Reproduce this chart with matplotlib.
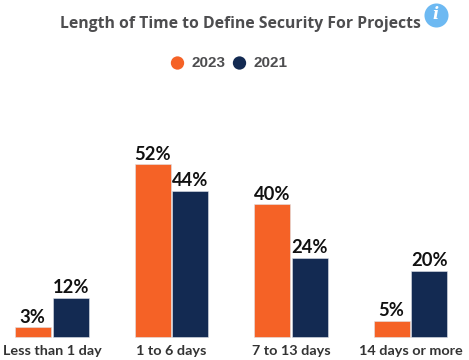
import matplotlib
matplotlib.use('Agg')
import matplotlib.pyplot as plt
import numpy as np

categories = ['Less than 1 day', '1 to 6 days', '7 to 13 days', '14 days or more']
values_2023 = [3, 52, 40, 5]
values_2021 = [12, 44, 24, 20]

orange = '#F56226'
navy = '#132A52'

fig = plt.figure(figsize=(4.69, 3.60), dpi=100)

# axes covers the whole figure, limits chosen so bars land in the right pixels
ax = fig.add_axes([0, 0, 1, 1])
x = np.arange(len(categories))
w = 0.302
off = 0.157
ax.bar(x - off, values_2023, w, color=orange, edgecolor='#dfe3ea', linewidth=0.4)
ax.bar(x + off, values_2021, w, color=navy, edgecolor='#dfe3ea', linewidth=0.4)
ax.set_xlim(-0.436, 3.488)
ax.set_ylim(-6.76, 101.35)
ax.axis('off')

for i, c in enumerate(categories):
    ax.text(i, -4.0, c, ha='center', va='center', fontsize=10.35,
            family='Lato', fontweight='bold', color='#333333')
    ax.text(i - off - 0.005, values_2023[i] + 0.5, f'{values_2023[i]}%', ha='center', va='bottom',
            fontsize=13.2, family='Lato', fontweight='bold', color='#111111')
    ax.text(i + off, values_2021[i] + 0.5, f'{values_2021[i]}%', ha='center', va='bottom',
            fontsize=13.2, family='Lato', fontweight='bold', color='#111111')

# title, legend and icon are placed in figure pixels
def fx(px):
    return px / 469

def fy(py):
    return 1 - py / 360

fig.text(fx(240.5), fy(23.5), 'Length of Time to Define Security For Projects', ha='center', va='center',
         fontsize=11.3, family='Open Sans', fontweight='bold', color='#4d4d4f')

over = fig.add_axes([0, 0, 1, 1])
over.set_xlim(0, 469)
over.set_ylim(360, 0)
over.axis('off')
over.patch.set_alpha(0)
over.scatter([177.5, 239.5], [63, 63], s=92, color=[orange, navy], linewidths=0)
over.scatter([436], [14.5], s=300, color='#6DB9F2', linewidths=0)
over.text(436, 14.5, 'i', ha='center', va='center', fontsize=11.5, family='DejaVu Serif',
          fontweight='bold', style='italic', color='white')
over.text(192, 63, '2023', ha='left', va='center', fontsize=11, family='Liberation Sans',
          fontweight='bold', color='#4d4d4f')
over.text(254, 63, '2021', ha='left', va='center', fontsize=11, family='Liberation Sans',
          fontweight='bold', color='#4d4d4f')

fig.savefig('out.png', dpi=100)
